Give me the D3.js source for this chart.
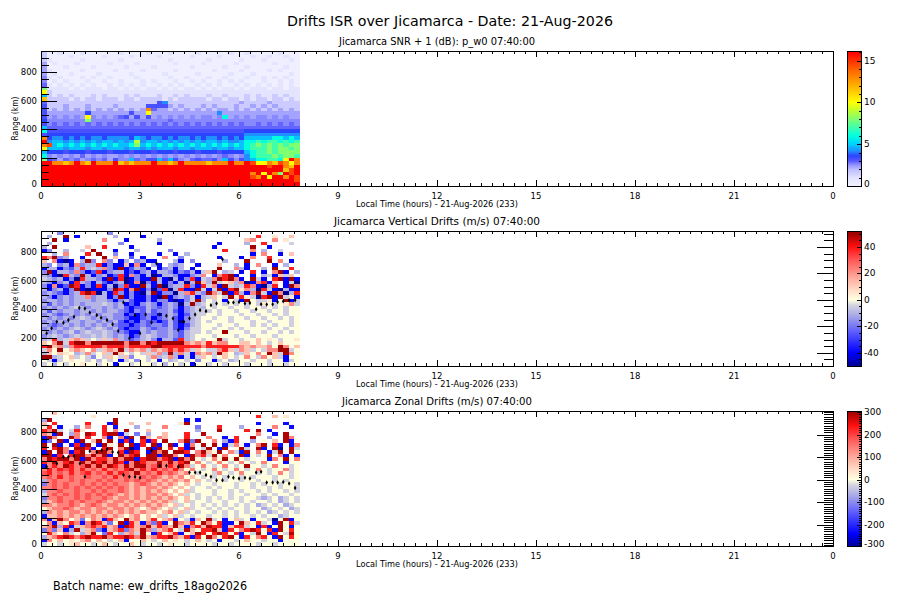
<!DOCTYPE html>
<html><head><meta charset="utf-8">
<script src="https://cdn.jsdelivr.net/npm/d3@7"></script>
<style>body{margin:0;background:#fff;} text{font-family:"DejaVu Sans",sans-serif;fill:#000;}</style>
</head><body><svg id="c" width="900" height="600"></svg>
<script>
// ---------- texts ----------
const mainTitle = "Drifts ISR over Jicamarca - Date: 21-Aug-2026";
const panelTitles = ["Jicamarca SNR + 1 (dB): p_w0 07:40:00","Jicamarca Vertical Drifts (m/s) 07:40:00","Jicamarca Zonal Drifts (m/s) 07:40:00"];
const xAxisTitle = "Local Time (hours) - 21-Aug-2026 (233)";
const yAxisTitle = "Range (km)";
const batchText = "Batch name: ew_drifts_18ago2026";
// ---------- ticks ----------
const xTickValues = [0,3,6,9,12,15,18,21,24];
const xTickLabels = ["0","3","6","9","12","15","18","21","0"];
const yTickValues = [0,200,400,600,800];
const cb1Ticks = [0,5,10,15];
const cb2Ticks = [-40,-20,0,20,40];
const cb3Ticks = [-300,-200,-100,0,100,200,300];
// ---------- grid ----------
const timeStep = 1/6;   // hours per column
const rangeStep = 25;   // km per row
const rangeMax = 950;
// ---------- code tables (char -> value) ----------
const snrCodes = "0123456789abcdefghr";
const snrLevels = [0.2,0.9,1.6,2.3,2.6,2.9,3.2,3.6,4.2,4.8,6,7,8,9,10,11.5,13,14.5,16];
const vzCodes = "BbmnlkzypqrR";
const vzLevels = [-50,-40,-25,-17,-10,-5,0,5,12,22,38,50];
const zonCodes = "BbnlkzypqorR";
const zonLevels = [-300,-230,-120,-70,-25,0,30,80,140,185,230,290];
// rows: top (925-950 km) to bottom (0-25 km); columns: 10-min bins from 00:00
const snrRows = [
"2001000100 0000100001 0001000010 0000100100 0001000",
"2000010000 0100001000 0100000100 0010000010 0100100",
"2100000100 0000100000 0001000000 1000001000 1000010",
"3010001000 0010000100 0000100001 0000010000 0010000",
"3000100001 0000010000 1000000100 0001000100 0000100",
"3100000100 0001000010 0000100000 0100001000 0101000",
"3010010000 1000001000 0010000010 0000100010 0000010",
"4101000101 0010000100 0001001000 1001000100 1010100",
"4010100010 0100100010 1000100101 0010101000 1001010",
"5101010101 0010101010 0101010010 1010010101 0101010",
"c111101011 1011010101 1010101101 0101101011 1011011",
"e211111111 1111111111 1111111111 1111111111 1111111",
"9212121112 1211121211 1211212111 2112111212 1121211",
"f222212122 1222122122 2212122222 1221221212 2122121",
"5222222222 2222222222 2682222222 2222223222 2322222",
"6222322232 2223222226 6663232223 2322232232 3232222",
"6232323232 323232323g 5332323232 3233232323 2323232",
"6333333373 333333633e 3333333333 3383333333 3333333",
"63434343e4 3434563636 3434343434 434a343434 4343433",
"74444444c4 4444444444 4445444444 4444444444 4444444",
"6454545454 5454545454 5454545454 5454545445 4545454",
"9555555555 5555555555 5555555555 5555555555 5555555",
"a666666666 6666666666 6666666666 6666666777 7777777",
"6777777777 7777777777 7777777777 7777777888 8888888",
"g788787878 8788887987 8878788787 8878787999 99aa9a9",
"r899898989 8998989d89 9898989898 9989889aab abbabab",
"gh9a9a9a9a 9a9a99ac9a 9a9a9a9a9a 9a9a9a9abc bcbcbcc",
"e999899989 9899989989 8999899899 9899899abb bcbccbc",
"9777677767 7767776777 6777677767 77677779ab bcbcccc",
"a434343534 3433434343 4343434343 43454348ab bbcbccb",
"c653545345 4536449546 6959643565 564964689a abbaerg",
"rrggfgrgfr gggrfgfggg rggfgrgggg fgggrggrhe egfhgeg",
"rrrrrrrrrr rrrrrrrrrr rrrrrrrrrr rrrrrrrrrr rhrrgfr",
"rrrrrrrrrr rrrrrrrrrr rrrrrrrrrr rrrrrrrrrr rrrrfhr",
"rrrrrrrrrr rrrrrrrrrr rrrrrrrrrr rrrrrrrrgr ergcrhr",
"rrrrrrrrrr rrrrrrrrrr rrrrrrrrrr rrrrrrrrhg rerrgrh",
"rrrrrrrrrr rrrrrrrrrr rrrrrrrrrr rrrrrrrrrr rrrrrrh",
"rrrrrrrrrr rrrrrrrrrr rrrrrrrrrr rrrrrrrrrr rrrrrrr"];
const vzRows = [
"...n...... ..n....... .......... .......... .......",
".l..R.b... ...l....b. .......... .........r ..y..p.",
"..R.b..... .q...b.... .l........ .......pq. ..q.y..",
".l........ ....n..... .b........ ..b....l.. r....k.",
"l.R.....p. .r....b... .......... .b......R. .b.....",
"bn..l..k.R ...b...l.. ...n...... ...r....q. l..k...",
"..l.q...r. R..n..b... .b..b.l... ........b. q..b.p.",
"rqRnl..b.. .R.p..m.b. ..q..n.... ..b...b.q. .r.....",
"p.qbBb.lRn .qn.bl.nlb b...lb.n.. ...l...R.. .R.q.b.",
"ln.nlbqnll rbnbbpbqb. lb.lnl..b. ..p..l.b.q ..b.l..",
"bllbnmlrlk lqnbRbmlnb .bnlbl.b.. ..R..qlb.. l.R..r.",
"nRbllnqnbm rbnllbmbnl bllnbnmlbk pR.lk.b.r. b.qRb.l",
"lnbBrlnRlb nlbmrbqnbl Bbllnbbnlq .bqrRb..b. lkbpkp.",
"klnlbnBrll nbRbrBbnbb RlbBlbnrbk lqRrRqb.Rk b.rRbRb",
"lnbnlbrlnb lmbnlBbqBn blbnblBlRp lRkyplqBbq rbp.bkB",
"nbqbmRrbnb rblBnrbbRl bRBnllrnbr kqbRklkrqb Blr.bRq",
"lbnlbnRbBb bbnRrbqRbn BmrBlrbbRk bkRbrRyqlB rkbBlbb",
"nlnmbnlrRr BlbrnbnbBl RbnnBlqrln RqkRbrlbqR kbRqBlr",
"lnbnlnllqn llbnRbnbbn bBRbnlnkbl kpzkRyrykB rRbRkyb",
"nllnlnllln llnbnlmbbn bnnbBbnkRl zkzbzkbRzk kybzRbk",
"lmlnlnlnll lklnlbmbnl nbnlnBlRlk zkzkzkzkzk yzkzyqk",
"nlnlnlklnl lnlnlmbmml nmnlnbnlkl zkzzkzzkzz kzkzkzz",
"lmlnllnlln lnllnmbnml mnnlmbnlkk kzkzzkzzkz zkzzkzz",
"nlnmnlnlnl nllnnbmbmn mbnlnbmlkk zzkzzzkzzk zzkzkzz",
"lnlnlnlkln lnlnnmbbmn bmnlmbnlkz zkzzkzzkzz kzzkzkz",
"nlnlnllnll nlnlmbmbnm mbmlmBnlkz kzzzkzzzkz zkzzzkz",
"lnmnlnlnln lnlnmmbmnm nnmlmbmlkz zzkzzkzzkz kzkzzkz",
"nlnlnlklnl klnlmbmmln mnnlmbnkkz zkzzkzkzzz zkzzkzz",
"lnlnlknlkl lklnnmbbln lnnlnmlkkz kzzRzzzkzz kzzkzkz",
"nlklnlkllk lklnlnbmlk lnnlnmlkzz zkzzzkzzkz zzkzzzz",
"lkrlkpqpkz kpkqlnmnlk nbllmrlkzk zzRkzzkzzp zyzkzzy",
"pzqRkrRRqR RRRRRqRRqR rRRRRRqpqp rpqqzzppzp zkzpzzz",
"rRpqlqrrrr rqrrrqrrrr RRrrrrrrrq rrrrrrqpqp pqzRqzp",
"kqzRzpqpzq kpqpRkqpqk qpqrqrqkpz kkqrpkqpkz kqqRRkz",
"lpzpyzlkqk zpkRpzkzkp kqlRlqkbqp qkRpzlkpzq zRpkRqz",
"RRlkzpkzkn zkpzkpnzzk qlkqlbkbkp zkzpzkzqzk qzpkbzz",
"zkbkzyzzkz lzkzbkznzk zbzlkzkznz zbkzlkzzkz zkzzbkz",
"kzlzkzzyzz kzzbzzkzzz kzlzzkzbzz kzzkzzzkzz zkzzkzz"];
const zonRows = [
"..p....... .......... .......... .......... .......",
".........y .......... .......... .........r ..p.y..",
"lR........ ...R...... ......b.b. .......... .......",
"p.r.....r. ..bR..p..p .....yR... .........b ....b..",
"yr.b..l.q. .r.b...l.. ..q.....n. ..r...l... ..q..b.",
"rqRk.kry.. .r.q.R...p ........l. ..R....r.R .b.....",
"qpbR.lq.Rr .rRRbk.n.l ..p...r..R .........q ..b.R..",
"bRq..Rq.r. .qb.qbR.Rp .qp...r... q..b.r..R. .l..Rq.",
"bn.Rb.bR.p R.R.brb.rb r.R..qRnR. .q.lbr..l. z.p.Rb.",
"R.Rb.brbR. bRy.R.Rbr. Rb.Rb.bq.R .R.bkq.b.q R.rb.bq",
"r.rRq.RRrb .rR.qRBb.R bRzr.rbR.k R.bR.zRk.R b.RB.Rk",
"bR.RqbrR.q RRq.rbRr.b RqR.RRr.qR pzR.qkbR.q zbkR.Rz",
"RRbr.rRRqR qRb.RqrR.R RbRRq.bRqr kRzq.zRbzk zR.qbzb",
"qRrRRqRbRq rrqRqRRbrR RqrRbRqRzk zqzRzRzkz. zbqzRzq",
"rqRqrRqRqR rRqRrbqRrq qRqRqrRzqz kzqzkzqzkz qz.zbzz",
"bqrqRrqoRq RqRrqRqRRq oRqrqRqkzq zkzqzkzRzz kzqzzkz",
"qrqrorqrqo qrqoqrRqrq rqoqrqzqzk zqzkzqzkzq zkzzqkz",
"orqoqrqorq oqrqroqRqo qrqoqpqzkz zkqzkzqzzk zkzqzkz",
"qoqrqoqqoq qoqrqoqqoq oqpqpqzpzk zkzkzzkzkz zzkzzkz",
"lqoqqoqoqq oqoqqoqoqo qpqpqpqzpz kzzkzzkzzk zzkzkzz",
"nqoqoqqoqo qoqoqqpqoq pqpqpzpzkz zkzzzkzzkz kzzkzzk",
"qqoqoqoqoq oqoqoqpqpq qpqpzpzkzz kzkzzkzzkz zkzkzzk",
"lqqoqqoqqo qoqqoqpqpq pqpzpzpkzz zkzzkzkzzk zkzzkzk",
"kqoqoqoqoq oqoqpqpqpq qpqpzpkzkz zkzzkzzkzz kzkzzkz",
"nqqoqqoqoq qoqpqqpqpq pqpqpzpzkz kzkzkzkzzk lkzlkzk",
"lpqoqoqoqq oqpqqpqpqp qpqpkzpkzz kzzkzzkzkz zkzlkzk",
"qqpqqoqpqo qpqqpqpqpq pqpzpkzkzk zkzkzkzkzl kzkzlkz",
"zpqqoqpqqp qqpqqpqpzp qpzpkzpkzz kzkzkzzkzz lkzkzlk",
"lqpqpqqpqp qpqpqpqpqp pzpqzpkzkz zkzkzkzkzk zlkzkzk",
"bppqpqpqpq pqpqpzpqzp zpkzpkzkzz kzzkzkzzkz kzzlkzz",
"qbpRqzpnzq pbrpzRpqzp rzpqbzkbpz Rkzbzpkzbz zkBzRbz",
"zqbpzrqbqR rpnzRbrpbq nrbzRqprzR qzrbbzRpzr kzbRzrk",
"pqRlrbkpqr qrpqbRrpqR prqpRpbqrp Rrrbprrkzb rbzRzbz",
"nqnpblRkpq nbpqrnqpRq lpqrzkRpzr rRpbrzqrRr zrbRzrz",
"zrpzqkzlpR znrzlpqkRz brzprbzpRr zrRrzrbzkR zbrzkRz",
"lpqrRrqrRr rRqrrRrqRp qrrRqprbrz RqzrRzbrzq rzbRzrz",
"bqzpzyzpqz pzkzpbzzpz kzpzyzkzpz kzbzzkzpzz kzzbzzz",
"kzzkzypzzk zpzkzzpzkz zkzyzzkzzz zkzzkzzzzk zzkzzzz"];
// peak-height markers (hours, km)
const vzPeakTime = [0.17,0.32,0.48,0.68,0.83,1.0,1.16,1.33,1.48,1.69,1.82,2.0,2.17,2.34,2.5,2.68,2.85,3.0,3.17,3.35,3.5,3.6,3.8,4.0,4.16,4.33,4.5,4.67,4.82,5.0,5.15,5.32,5.5,5.68,5.83,6.0,6.18,6.33,6.52,6.67,6.84,7.02,7.17,7.34,7.52,7.7];
const vzPeakRange = [230,265,311,304,323,346,409,405,377,358,339,323,293,246,447,195,358,230,363,307,721,363,353,335,253,311,335,363,393,386,428,440,751,447,447,451,440,444,400,435,433,435,451,456,463,463];
const zonPeakTime = [0.17,0.48,0.68,0.83,1.0,1.18,1.33,1.48,1.69,1.84,2.0,2.17,2.34,2.5,2.68,2.85,3.0,3.35,3.6,3.8,4.16,4.5,4.67,4.82,5.0,5.15,5.32,5.5,5.68,5.83,6.0,6.18,6.33,6.52,6.67,6.84,7.02,7.17,7.34,7.52,7.7];
const zonPeakRange = [557,581,627,627,634,581,487,667,662,674,681,662,658,499,487,487,480,674,564,564,557,517,517,517,499,487,463,463,487,480,475,480,475,517,522,447,447,447,451,440,409];

// ---------- colour scales ----------
const snrColor = d3.scaleLinear()
  .domain([0,1,2,2.5,3,3.6,4.2,5,6,7.5,9,10,12,14,16])
  .range(["#f2f2ff","#e2e2ff","#bcbcff","#9494ff","#5858ff","#2c44ff","#2090ff","#00d0ff","#00ffe0","#60ff90","#c0ff30","#ffff00","#ffb000","#ff6000","#ff0000"]).clamp(true);
const divDomain = [-50,-40,-25,-12,-4,0,5,15,30,40,50];
const divRange = ["#000090","#0000ff","#5858ff","#a8a8e8","#d4d4e0","#ffffe0","#ffe8d0","#ffb4a4","#ff5858","#ff1010","#a00000"];
const vzColor = d3.scaleLinear().domain(divDomain).range(divRange).clamp(true);
const zonColor = d3.scaleLinear().domain(divDomain.map(v=>v*6)).range(divRange).clamp(true);

// ---------- layout ----------
const svg = d3.select("#c");
const X0 = 41, X1 = 833, PH = 135;
const tops = [51, 231, 411];
const x = d3.scaleLinear().domain([0,24]).range([X0,X1]);
const colEdge = j => Math.round(x(j*timeStep));
const CBX = 847, CBW = 14;

function txt(g, xx, yy, s, size, anchor, len, rot){
  const t = g.append("text").attr("x",xx).attr("y",yy).attr("font-size",size)
    .attr("text-anchor",anchor||"start").text(s);
  if(len) t.attr("textLength",len).attr("lengthAdjust","spacingAndGlyphs");
  if(rot) t.attr("transform",`rotate(${rot},${xx},${yy})`);
  return t;
}
function line(g,x1,y1,x2,y2){
  g.append("line").attr("x1",x1).attr("y1",y1).attr("x2",x2).attr("y2",y2)
   .attr("stroke","#000").attr("stroke-width",1).attr("shape-rendering","crispEdges");
}

txt(svg, 450, 26, mainTitle, 14, "middle", 326);
txt(svg, 53, 590, batchText, 12, "start", 194);

const panels = [
  {rows:snrRows, codes:snrCodes, levels:snrLevels, color:snrColor, cb:[0,16.15], cbTicks:cb1Ticks, cbMinor:1, title:panelTitles[0], tlen:196},
  {rows:vzRows, codes:vzCodes, levels:vzLevels, color:vzColor, cb:[-50,52], cbTicks:cb2Ticks, cbMinor:5, title:panelTitles[1], tlen:206,
    peakT:vzPeakTime, peakR:vzPeakRange, right:{major:[-40,-20,0,20,40], step:5, lo:-45, hi:50}},
  {rows:zonRows, codes:zonCodes, levels:zonLevels, color:zonColor, cb:[-295,305], cbTicks:cb3Ticks, cbMinor:10, title:panelTitles[2], tlen:190,
    peakT:zonPeakTime, peakR:zonPeakRange, right:{major:[-200,-100,0,100,200], step:10, lo:-290, hi:300}}
];

panels.forEach((p,pi)=>{
  const top = tops[pi], bot = top+PH;
  const g = svg.append("g");
  const y = d3.scaleLinear().domain([0,rangeMax]).range([bot, top]);
  const rowEdge = r => Math.round(y(r));
  const cells = [];
  p.rows.forEach((r,i)=>{
    const s = r.replace(/ /g,"");
    const lower = rangeMax - rangeStep*(i+1);
    for(let j=0;j<s.length;j++){
      const k = p.codes.indexOf(s[j]);
      if(k<0) continue;
      cells.push({j:j, r:lower, v:p.levels[k]});
    }
  });
  g.append("g").selectAll("rect").data(cells).join("rect")
    .attr("x",d=>colEdge(d.j))
    .attr("width",d=>colEdge(d.j+1)-colEdge(d.j))
    .attr("y",d=>rowEdge(d.r+rangeStep))
    .attr("height",d=>rowEdge(d.r)-rowEdge(d.r+rangeStep))
    .attr("fill",d=>p.color(d.v)).attr("shape-rendering","crispEdges");
  if(p.peakT){
    const pts = p.peakT.map((t,i)=>[t,p.peakR[i]]);
    g.append("g").selectAll("path").data(pts).join("path")
      .attr("d", d3.symbol(d3.symbolDiamond, 6))
      .attr("transform",d=>`translate(${x(d[0])},${y(d[1])})`)
      .attr("fill","#000");
  }
  // frame
  g.append("rect").attr("x",X0).attr("y",top).attr("width",X1-X0).attr("height",PH)
    .attr("fill","none").attr("stroke","#000").attr("shape-rendering","crispEdges");
  // x ticks (minor every 20 min)
  for(let m=0;m<=72;m++){
    const h = m/3, xx = Math.round(x(h))+0.5, major = (m%9===0);
    const L = major?6:3;
    line(g,xx,bot,xx,bot-L); line(g,xx,top,xx,top+L);
  }
  xTickValues.forEach((v,i)=>txt(g, x(v), bot+12.5, xTickLabels[i], 8.5, "middle"));
  txt(g, 437, bot+20.5, xAxisTitle, 8, "middle", 162);
  // y ticks left
  for(let r=0;r<=900;r+=50){
    const yy = Math.round(y(r))+0.5, major = (r%200===0);
    line(g,X0,yy,X0+(major?16:8),yy);
  }
  yTickValues.forEach(v=>txt(g, 37, Math.min(y(v)+3, bot+1), String(v), 8.5, "end"));
  txt(g, 18, top+PH/2, yAxisTitle, 8.5, "middle", 44, -90);
  // panel title
  txt(g, 437, top-6, p.title, 10.5, "middle", p.tlen);
  // colorbar
  const cy = d3.scaleLinear().domain(p.cb).range([bot, top]);
  for(let yy=top; yy<bot; yy++){
    g.append("rect").attr("x",CBX).attr("y",yy).attr("width",CBW).attr("height",1)
      .attr("fill",p.color(cy.invert(yy+0.5))).attr("shape-rendering","crispEdges");
  }
  g.append("rect").attr("x",CBX).attr("y",top).attr("width",CBW).attr("height",PH)
    .attr("fill","none").attr("stroke","#000").attr("shape-rendering","crispEdges");
  const lo = Math.ceil(p.cb[0]/p.cbMinor)*p.cbMinor;
  for(let v=lo; v<=p.cb[1]; v+=p.cbMinor){
    const yy = Math.round(cy(v))+0.5;
    const major = p.cbTicks.includes(v);
    line(g,CBX+CBW,yy,CBX+CBW-(major?4:2),yy);
  }
  p.cbTicks.forEach(v=>txt(g, CBX+CBW+3, Math.min(cy(v)+3, bot+1), String(v), 9, "start"));
  // right axis ticks
  if(p.right){
    const R = p.right;
    for(let v=R.lo; v<=R.hi; v+=R.step){
      const yy = Math.round(cy(v))+0.5;
      const major = R.major.includes(v);
      line(g,X1,yy,X1-(major?16:9),yy);
    }
  }
});
</script></body></html>
